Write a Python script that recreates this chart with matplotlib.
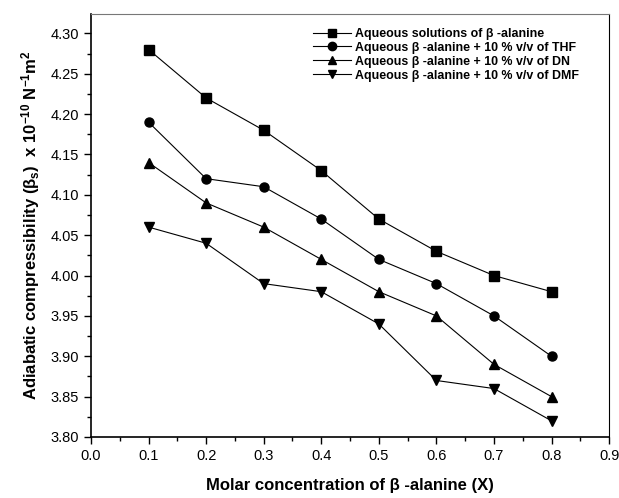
import matplotlib
matplotlib.use("Agg")
from matplotlib import pyplot as plt
from matplotlib.ticker import MultipleLocator, FormatStrFormatter

plt.rcParams['font.family'] = ['Liberation Sans', 'DejaVu Sans']
plt.rcParams['mathtext.default'] = 'regular'

x = [0.1, 0.2, 0.3, 0.4, 0.5, 0.6, 0.7, 0.8]
aqueous = [4.28, 4.22, 4.18, 4.13, 4.07, 4.03, 4.00, 3.98]
thf = [4.19, 4.12, 4.11, 4.07, 4.02, 3.99, 3.95, 3.90]
dn = [4.14, 4.09, 4.06, 4.02, 3.98, 3.95, 3.89, 3.85]
dmf = [4.06, 4.04, 3.99, 3.98, 3.94, 3.87, 3.86, 3.82]

labels = ["Aqueous solutions of \u03b2 -alanine",
          "Aqueous \u03b2 -alanine + 10 % v/v of THF",
          "Aqueous \u03b2 -alanine + 10 % v/v of DN",
          "Aqueous \u03b2 -alanine + 10 % v/v of DMF"]
markers = ['s', 'o', '^', 'v']

fig = plt.figure(figsize=(6.19, 4.98), dpi=100)
ax = fig.add_axes([0.147, 0.1225, 0.837, 0.8494])

for ys, m, lab in zip([aqueous, thf, dn, dmf], markers, labels):
    ax.plot(x, ys, color='black', lw=0.8, marker=m, ms=6.5, label=lab)

ax.set_xlim(0.0, 0.9)
ax.set_ylim(3.80, 4.324)
ax.xaxis.set_major_locator(MultipleLocator(0.1))
ax.xaxis.set_minor_locator(MultipleLocator(0.05))
ax.yaxis.set_major_locator(MultipleLocator(0.05))
ax.yaxis.set_minor_locator(MultipleLocator(0.025))
ax.xaxis.set_major_formatter(FormatStrFormatter('%.1f'))
ax.yaxis.set_major_formatter(FormatStrFormatter('%.2f'))
ax.tick_params(which='major', length=5, width=1, labelsize=10.5)
ax.tick_params(which='minor', length=3, width=1)
ax.tick_params(top=False, right=False)
for s in ['left', 'bottom']:
    ax.spines[s].set_linewidth(1.2)
ax.spines['top'].set_color('#777777')
ax.spines['right'].set_linewidth(0.8)

ax.set_xlabel("Molar concentration of \u03b2 -alanine (X)", fontsize=12, fontweight='bold', labelpad=11)
ax.set_ylabel("Adiabatic compressibility (\u03b2$_s$)  x 10$^{-10}$ N$^{-1}$m$^{2}$",
              fontsize=12, fontweight='bold', labelpad=6)

leg = ax.legend(loc='upper left', frameon=False, prop={'weight': 'bold', 'size': 8.9},
                handlelength=3.1, handletextpad=0.3, labelspacing=0.15,
                borderaxespad=0, borderpad=0, bbox_to_anchor=(0.4286, 0.967))
for h in leg.legend_handles:
    h.set_markersize(6)

fig.savefig("out.png", dpi=100)
